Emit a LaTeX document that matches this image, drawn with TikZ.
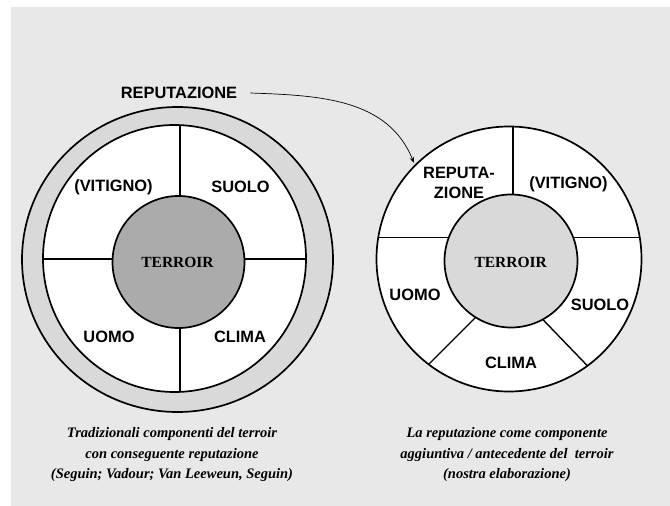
\documentclass[tikz,border=0pt]{standalone}
\usepackage{fontspec}
\setmainfont{Liberation Serif}
\newfontfamily\lblfont{Liberation Sans}
\newfontfamily\capfont{Liberation Serif}
\usetikzlibrary{arrows.meta}
\definecolor{bgc}{HTML}{E8E8E8}
\definecolor{ringc}{HTML}{D9D9D9}
\definecolor{coredark}{HTML}{ABABAB}
\definecolor{corelight}{HTML}{D9D9D9}
\tikzset{
  lbl/.style={font=\lblfont\bfseries\fontsize{16.4}{19.5}\selectfont, align=center, inner sep=0pt},
  terr/.style={font=\bfseries\fontsize{15.5}{18}\selectfont, inner sep=0pt},
  captext/.style={font=\capfont\bfseries\itshape\fontsize{14.5}{20.5}\selectfont, align=center, inner sep=0pt},
  outline/.style={draw=black, line width=1.7pt},
  divider/.style={draw=black, line width=1.4pt},
}
\begin{document}
\begin{tikzpicture}[x=1pt,y=-1pt]
\useasboundingbox (0,0) rectangle (670,506);
\fill[bgc] (11,7) rectangle (670,506);

% ---------- left diagram ----------
\filldraw[fill=ringc, outline] (177.5,259.5) ellipse [x radius=155.5pt, y radius=152.5pt];
\fill[white] (174.5,258.5) ellipse [x radius=131.5pt, y radius=133.5pt];
\begin{scope}
  \clip (174.5,258.5) ellipse [x radius=131.5pt, y radius=133.5pt];
  \draw[divider] (180,100) -- (180,420);
  \draw[divider] (30,259) -- (320,259);
\end{scope}
\draw[outline] (174.5,258.5) ellipse [x radius=131.5pt, y radius=133.5pt];
\filldraw[fill=coredark, outline] (178.5,262) circle [radius=66pt];

\node[lbl] (repL) at (179,93) {REPUTAZIONE};
\node[lbl] (vitL) at (113.5,187) {(VITIGNO)};
\node[lbl] (suoL) at (240.5,187) {SUOLO};
\node[lbl] (uomL) at (109,337) {UOMO};
\node[lbl] (cliL) at (240,337) {CLIMA};
\node[terr] (terL) at (177.5,262) {TERROIR};

% ---------- right diagram ----------
\fill[white] (509,259) circle [radius=132.5pt];
\begin{scope}
  \clip (509,259) circle [radius=132.5pt];
  \draw[divider] (513,100) -- (513,262);
  \draw[divider] (350,237.5) -- (670,237.5);
  \draw[divider] (500,293) -- (400,393);
  \draw[divider] (525,301) -- (620,399.6);
\end{scope}
\draw[outline] (509,259) circle [radius=132.5pt];
\filldraw[fill=corelight, outline] (511,261) circle [radius=66.5pt];

\node[lbl] (repR) at (459,183) {REPUTA-\\ZIONE};
\node[lbl] (vitR) at (568.5,184) {(VITIGNO)};
\node[lbl] (uomR) at (415,295) {UOMO};
\node[lbl] (suoR) at (600,305) {SUOLO};
\node[lbl] (cliR) at (511,363) {CLIMA};
\node[terr] (terR) at (510.7,262) {TERROIR};

% ---------- arrow ----------
\coordinate (arrEnd) at (414,163);
\draw[line width=0.7pt, -{Stealth[length=6pt,width=4.5pt]}] ([xshift=13pt]repL.east) to[out=-2,in=112] (arrEnd);

% ---------- captions ----------
\node[captext] (capL) at (172,455) {Tradizionali componenti del terroir\\con conseguente reputazione\\(Seguin; Vadour; Van Leeweun, Seguin)};
\node[captext] (capR) at (507,455) {La reputazione come componente\\aggiuntiva / antecedente del\ \ terroir\\(nostra elaborazione)};
\end{tikzpicture}
\end{document}
